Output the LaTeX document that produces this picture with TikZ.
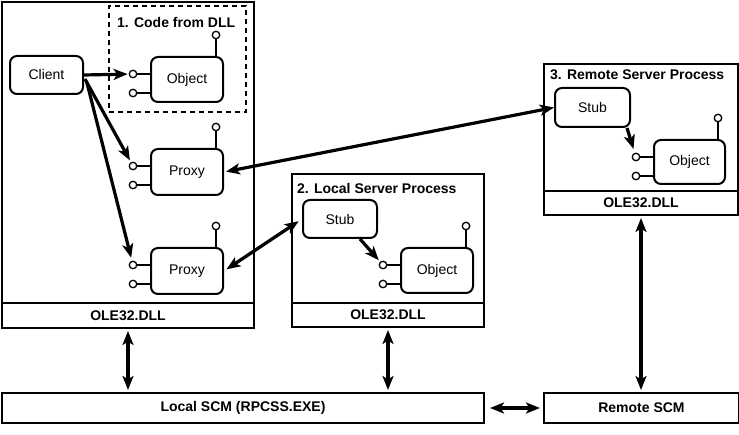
\documentclass[tikz,border=0pt]{standalone}
\usepackage{fontspec}
\setmainfont{Liberation Sans}
\usetikzlibrary{calc,arrows.meta}
\begin{document}
\begin{tikzpicture}[x=1pt,y=-1pt,
  font=\fontsize{14}{16}\selectfont,
  sz/.style 2 args={minimum width=#1pt, minimum height=#2pt},
  frame/.style={draw, line width=2pt, inner sep=0pt, anchor=north west},
  boldtxt/.style={font=\fontsize{14}{16}\selectfont\bfseries},
  rbox/.style={draw, line width=2pt, rounded corners=7pt, inner sep=0pt, anchor=north west},
  title/.style={anchor=west, inner sep=0pt, font=\fontsize{14}{16}\selectfont\bfseries},
  lolly/.style={draw, circle, line width=1.3pt, minimum size=7.5pt, inner sep=0pt, fill=white},
  stem/.style={line width=2pt},
  tip/.tip={Stealth[length=14pt,width=11pt,inset=3.5pt]},
  arr/.style={line width=3.2pt, -tip},
  darr/.style={line width=3.2pt, tip-tip},
]
\fill[white] (0,0) rectangle (739,435);
\useasboundingbox (0,0) rectangle (739,435);

% local client process
\node[frame, sz={252}{301}] (procL) at (1,1) {};
\node[frame, boldtxt, sz={252}{25}] (oleL) at (1,302) {OLE32.DLL};
\node[frame, dash pattern=on 5pt off 4pt, sz={137}{106}] (dll) at (108,5) {};
\node[title] (dllT) at (117,23) {1. Code from DLL};
\node[rbox, sz={73}{38}] (client) at (9,55) {Client};
\node[rbox, sz={72}{45}] (obj1) at (150,56) {Object};
\node[rbox, sz={72}{46}] (proxy1) at (150,148) {Proxy};
\node[rbox, sz={72}{46}] (proxy2) at (150,247) {Proxy};

% local server process
\node[frame, sz={192}{129}] (procS) at (291,173) {};
\node[frame, boldtxt, sz={192}{24}] (oleS) at (291,302) {OLE32.DLL};
\node[title] (procST) at (297,188) {2. Local Server Process};
\node[rbox, sz={74}{38}] (stub2) at (302,199) {Stub};
\node[rbox, sz={72}{45}] (obj2) at (400,247) {Object};

% remote server process
\node[frame, sz={194}{127}] (procR) at (543,63) {};
\node[frame, boldtxt, sz={194}{24}] (oleR) at (543,190) {OLE32.DLL};
\node[title] (procRT) at (550,75) {3. Remote Server Process};
\node[rbox, sz={75}{39}] (stub3) at (554,87) {Stub};
\node[rbox, sz={71}{44}] (obj3) at (653,139) {Object};

% SCMs
\node[frame, boldtxt, sz={482}{30}] (lscm) at (1,392) {Local SCM (RPCSS.EXE)};
\node[frame, boldtxt, sz={195}{30}] (rscm) at (543,392) {Remote SCM};

% lollipop interfaces
\foreach \n in {obj1,proxy1,proxy2,obj2,obj3} {
  \node[lolly] (\n-t) at ($(\n.north east)+(-8,-21)$) {};
  \node[lolly] (\n-a) at ($(\n.north west)+(-17,18)$) {};
  \node[lolly] (\n-b) at ($(\n.north west)+(-17,37)$) {};
  \draw[stem] (\n-t) -- (\n-t |- \n.north);
  \draw[stem] (\n-a) -- (\n-a -| \n.west);
  \draw[stem] (\n-b) -- (\n-b -| \n.west);
}

% connectors
\draw[arr, shorten >=1pt] (client.east) -- (obj1-a);
\draw[arr, shorten >=2pt] ($(client.east)+(1,4)$) -- (proxy1-a);
\draw[arr, shorten >=3pt] ($(client.east)+(3,8)$) -- (proxy2-a);
\draw[darr, shorten <=2pt] (proxy1.east) -- (stub3.west);
\draw[darr, shorten <=3pt, shorten >=4pt] (proxy2.east) -- (stub2.west);
\draw[arr, shorten >=2pt] ($(stub2.south east)+(-18,0)$) -- (obj2-a);
\draw[arr, shorten >=4pt] ($(stub3.south east)+(-4,0)$) -- (obj3-a);
\draw[darr, shorten <=2pt, shorten >=2pt] (oleL.south) -- (oleL.south |- lscm.north);
\draw[darr, shorten <=2pt, shorten >=2pt] (oleS.south) -- (oleS.south |- lscm.north);
\draw[darr, shorten <=2pt, shorten >=2pt] (oleR.south) -- (oleR.south |- rscm.north);
\draw[darr, shorten <=5pt, shorten >=3pt] (lscm.east) -- (rscm.west);
\end{tikzpicture}
\end{document}
